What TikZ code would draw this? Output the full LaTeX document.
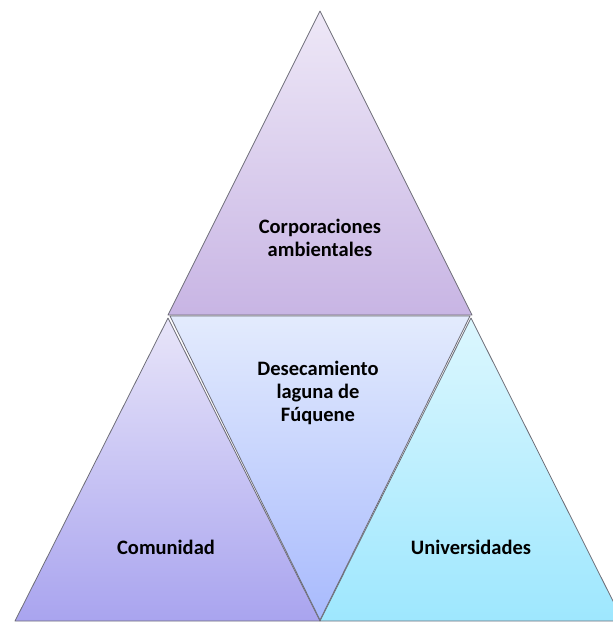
\documentclass[tikz,border=0pt]{standalone}
\usepackage{fontspec}
\setmainfont{Carlito}
\usetikzlibrary{positioning}
\definecolor{corpTop}{HTML}{EEE8F7}
\definecolor{corpBot}{HTML}{C8B5E4}
\definecolor{comTop}{HTML}{E8E5F9}
\definecolor{comBot}{HTML}{A9A4EF}
\definecolor{desTop}{HTML}{E3EBFD}
\definecolor{desBot}{HTML}{A8BAFD}
\definecolor{uniTop}{HTML}{DCF7FE}
\definecolor{uniBot}{HTML}{9EE7FE}
\definecolor{edge}{HTML}{6E6E78}

\begin{document}
\begin{tikzpicture}[x=1pt, y=-1pt,
  tri/.style={draw=edge, line width=0.8pt, line join=round},
  lbl/.style={font=\fontsize{20.5}{23}\selectfont\bfseries, align=center, text=black}]
  \useasboundingbox (0,0) rectangle (613,622);

  \begin{scope}
    \clip (0,0) rectangle (613,622);

    % Corners
    \coordinate (corp-apex) at (320,11);
    \coordinate (corp-l) at (168,315);
    \coordinate (corp-r) at (472,315);
    \coordinate (com-apex) at (168,318);
    \coordinate (com-l) at (15,621);
    \coordinate (com-r) at (320,621);
    \coordinate (uni-apex) at (471,318);
    \coordinate (uni-l) at (320,621);
    \coordinate (uni-r) at (623,621);
    \coordinate (des-l) at (170,316);
    \coordinate (des-r) at (470,316);
    \coordinate (des-tip) at (320,620);

    % Top triangle
    \draw[tri, top color=corpTop, bottom color=corpBot] (corp-apex) -- (corp-r) -- (corp-l) -- cycle;

    % Bottom triangles
    \draw[tri, top color=comTop, bottom color=comBot] (com-apex) -- (com-r) -- (com-l) -- cycle;
    \draw[tri, top color=uniTop, bottom color=uniBot] (uni-apex) -- (uni-r) -- (uni-l) -- cycle;

    % Middle triangle
    \draw[tri, top color=desTop, bottom color=desBot] (des-l) -- (des-r) -- (des-tip) -- cycle;
  \end{scope}

  % Labels
  \node[lbl] (corp) at (320,238) {Corporaciones\\ambientales};
  \node[lbl] (des) at (318,393) {Desecamiento\\laguna de\\Fúquene};
  \node[lbl] (com) at (166,547) {Comunidad};
  \node[lbl] (uni) at (471,547) {Universidades};
\end{tikzpicture}
\end{document}
